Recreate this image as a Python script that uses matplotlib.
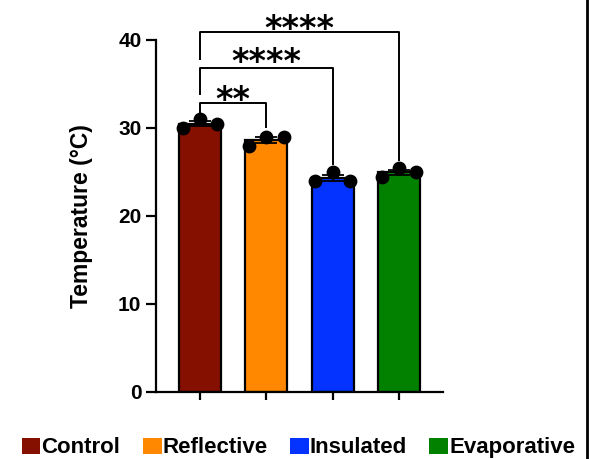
import numpy as np
import matplotlib.pyplot as plt
from matplotlib.patches import Patch
from matplotlib.lines import Line2D

plt.rcParams['font.family'] = ['Liberation Sans', 'DejaVu Sans']
plt.rcParams['font.weight'] = 'bold'

groups = ["Control", "Reflective", "Insulated", "Evaporative"]
colors = ["#851000", "#ff8800", "#0433ff", "#028000"]
points = [
    [30.0, 31.0, 30.45],
    [27.95, 29.0, 29.0],
    [23.98, 25.03, 23.98],
    [24.47, 25.5, 24.97],
]
# comparisons against Control:
# (group index, bracket height, label, label baseline, left arm end, right arm end)
comparisons = [(1, 32.8, "**", 32.1, 31.4, 30.1),
               (2, 36.8, "****", 36.4, 33.9, 25.9),
               (3, 40.9, "****", 40.15, 37.8, 26.4)]

fig = plt.figure(figsize=(5.94, 4.59), dpi=100)
ax = fig.add_axes([0.2626, 0.146, 0.4832, 0.7669])

x = np.arange(len(groups))
means = [np.mean(p) for p in points]
sems = [np.std(p, ddof=1) / np.sqrt(len(p)) for p in points]

ax.bar(x, means, width=0.63, color=colors, edgecolor="black", linewidth=1.6, zorder=2)
ax.errorbar(x, means, yerr=sems, fmt="none", ecolor="black", elinewidth=1.3,
            capsize=8, capthick=1.3, zorder=3)
offsets = [-0.26, 0.0, 0.26]
for i, p in enumerate(points):
    ax.scatter(x[i] + np.array(offsets), p, s=80, color="black", zorder=4, clip_on=False)

for j, h, lab, base, left_end, right_end in comparisons:
    ax.plot([0, 0, j, j], [left_end, h, h, right_end], color="black", lw=1.4, clip_on=False)
    ax.text(j / 2, base, lab, ha="center", va="baseline", fontsize=24,
            fontweight="bold", family="DejaVu Sans", clip_on=False)

ax.set_xlim(-0.66, 3.66)
ax.set_ylim(0, 40)
ax.set_yticks([0, 10, 20, 30, 40])
ax.set_xticks(x)
ax.set_xticklabels([])
ax.tick_params(axis="y", labelsize=15, width=1.6, length=7)
ax.tick_params(axis="x", width=1.6, length=6)
for lab in ax.get_yticklabels():
    lab.set_fontweight("bold")
ax.spines[["top", "right"]].set_visible(False)
ax.spines[["left", "bottom"]].set_linewidth(1.6)
ax.set_ylabel("Temperature (°C)", fontsize=16.5, fontweight="bold", labelpad=18)

handles = [Patch(facecolor=c, edgecolor="none") for c in colors]
fig.legend(handles, groups, loc="center", bbox_to_anchor=(0.5025, 0.024), ncol=4,
           frameon=False, prop={"size": 16, "weight": "bold"}, handlelength=0.85,
           handleheight=0.72, handletextpad=0.05, columnspacing=1.0)

fig.add_artist(Line2D([0.988, 0.988], [0, 1], color="black", lw=2))

fig.savefig("out.png", dpi=100)
